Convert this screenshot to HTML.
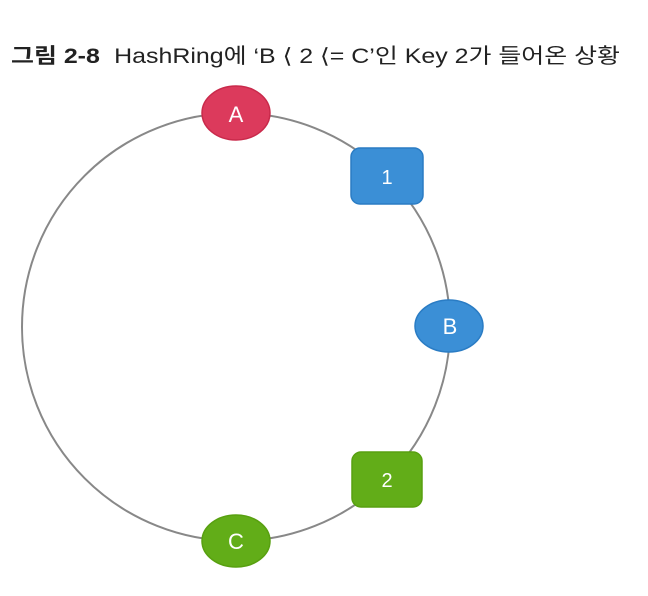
<!DOCTYPE html>
<html><head><meta charset="utf-8"><style>
body{margin:0;background:#fff;width:648px;height:596px;overflow:hidden}
svg{display:block}
</style></head><body>
<svg width="648" height="596" xmlns="http://www.w3.org/2000/svg">
<text x="11" y="63" font-family="Liberation Sans, 'Noto Sans CJK KR', sans-serif" font-size="21" fill="#222" textLength="609" lengthAdjust="spacingAndGlyphs"><tspan font-weight="bold">그림 2-8</tspan><tspan dx="12">HashRing에 ‘B ⟨ 2 ⟨= C’인 Key 2가 들어온 상황</tspan></text>
<circle cx="236" cy="327" r="214" fill="none" stroke="#888" stroke-width="2"/>
<ellipse cx="236" cy="113" rx="34" ry="27" fill="#dc3a5c" stroke="#c92a4b" stroke-width="1.5"/>
<text x="236" y="122" text-anchor="middle" font-family="Liberation Sans, sans-serif" font-size="22" fill="#fff">A</text>
<rect x="351" y="148" width="72" height="56" rx="9" fill="#3b8fd6" stroke="#2a7cc4" stroke-width="1.5"/>
<text x="387" y="184" text-anchor="middle" font-family="Liberation Sans, sans-serif" font-size="20" fill="#fff">1</text>
<ellipse cx="449" cy="326" rx="34" ry="26" fill="#3b8fd6" stroke="#2a7cc4" stroke-width="1.5"/>
<text x="450" y="334" text-anchor="middle" font-family="Liberation Sans, sans-serif" font-size="22" fill="#fff">B</text>
<rect x="352" y="452" width="70" height="55" rx="9" fill="#62ad18" stroke="#58a010" stroke-width="1.5"/>
<text x="387" y="487" text-anchor="middle" font-family="Liberation Sans, sans-serif" font-size="20" fill="#fff">2</text>
<ellipse cx="236" cy="541" rx="34" ry="26" fill="#62ad18" stroke="#58a010" stroke-width="1.5"/>
<text x="236" y="549" text-anchor="middle" font-family="Liberation Sans, sans-serif" font-size="22" fill="#fff">C</text>
</svg>
</body></html>
